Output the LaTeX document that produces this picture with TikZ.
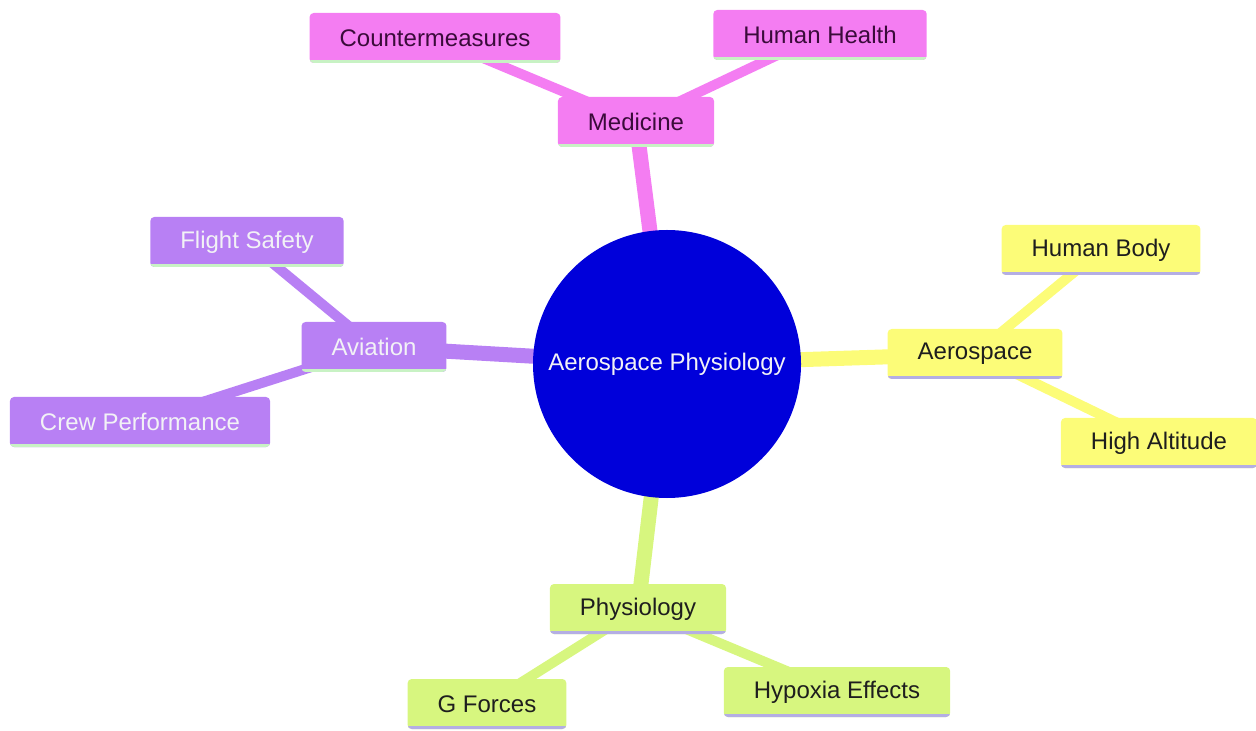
\documentclass[tikz,border=0pt]{standalone}
\usepackage{fontspec}
\setsansfont{Liberation Sans}
\usetikzlibrary{backgrounds}
\definecolor{coreblue}{HTML}{0000DA}
\definecolor{medpink}{HTML}{F47DF2}
\definecolor{avpurple}{HTML}{B880F4}
\definecolor{aeroyellow}{HTML}{FCFC78}
\definecolor{physlime}{HTML}{D7F67F}
\definecolor{mintline}{HTML}{C8F2C4}
\definecolor{lavline}{HTML}{B4AEE4}
\definecolor{inkdark}{HTML}{1E1E1E}
\definecolor{inkplum}{HTML}{3A0B3A}
\definecolor{inklight}{HTML}{F2F2F6}

\begin{document}
\begin{tikzpicture}[
    x=0.5pt, y=-0.5pt,
    font=\sffamily\fontsize{12}{14}\selectfont,
    box/.style={rectangle, rounded corners=2pt, inner xsep=15pt, minimum height=25pt,
        path picture={\draw[#1, line width=3pt] (path picture bounding box.south west) -- (path picture bounding box.south east);}},
    medbox/.style={box=mintline, fill=medpink, text=inkplum},
    avbox/.style={box=mintline, fill=avpurple, text=inklight},
    aerobox/.style={box=lavline, fill=aeroyellow, text=inkdark},
    physbox/.style={box=lavline, fill=physlime, text=inkdark},
    root/.style={circle, fill=coreblue, text=inklight, minimum size=134pt, inner sep=0pt},
    trunk/.style={line width=7.5pt},
    twig/.style={line width=5pt}
]
\useasboundingbox (0,0) rectangle (1256,731);

% ==================== CENTER ====================
\node[root] (core) at (667, 364) {Aerospace Physiology};

% ==================== TOP: MEDICINE ====================
\node[medbox] (medicine) at (636, 122) {Medicine};
\node[medbox] (counter) at (435, 38) {Countermeasures};
\node[medbox] (health) at (820, 35) {Human Health};

% ==================== LEFT: AVIATION ====================
\node[avbox] (aviation) at (374, 347) {Aviation};
\node[avbox] (safety) at (247, 242) {Flight Safety};
\node[avbox] (crew) at (140, 422) {Crew Performance};

% ==================== RIGHT: AEROSPACE ====================
\node[aerobox] (aero) at (975, 354) {Aerospace};
\node[aerobox] (body) at (1101, 250) {Human Body};
\node[aerobox] (altitude) at (1159, 443) {High Altitude};

% ==================== BOTTOM: PHYSIOLOGY ====================
\node[physbox] (physio) at (638, 609) {Physiology};
\node[physbox] (gforce) at (487, 704) {G Forces};
\node[physbox] (hypoxia) at (837, 692) {Hypoxia Effects};

% ==================== BRANCHES ====================
\begin{scope}[on background layer]
\draw[trunk, medpink] (core.center) -- (medicine.center);
\draw[twig, medpink] (medicine.center) -- (counter.center);
\draw[twig, medpink] (medicine.center) -- (health.center);

\draw[trunk, avpurple] (core.center) -- (aviation.center);
\draw[twig, avpurple] (aviation.center) -- (safety.center);
\draw[twig, avpurple] (aviation.center) -- (crew.center);

\draw[trunk, aeroyellow] (core.center) -- (aero.center);
\draw[twig, aeroyellow] (aero.center) -- (body.center);
\draw[twig, aeroyellow] (aero.center) -- (altitude.center);

\draw[trunk, physlime] (core.center) -- (physio.center);
\draw[twig, physlime] (physio.center) -- (gforce.center);
\draw[twig, physlime] (physio.center) -- (hypoxia.center);
\end{scope}

\end{tikzpicture}
\end{document}
